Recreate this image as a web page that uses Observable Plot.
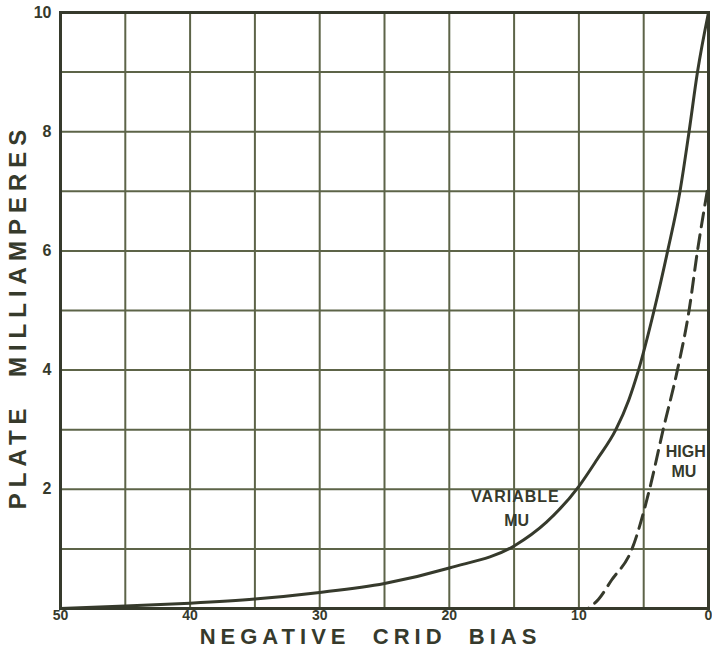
<!DOCTYPE html>
<html>
<head>
<meta charset="utf-8">
<script src="https://cdn.jsdelivr.net/npm/d3@7"></script>
<script src="https://cdn.jsdelivr.net/npm/@observablehq/plot@0.6"></script>
<style>
  html, body { margin: 0; padding: 0; background: #fff; }
</style>
</head>
<body>
<div id="chart"></div>
<script>
// Negative grid bias (volts) and plate current (mA)
const variableBias = [0, 0.85, 1.5, 2.2, 3.15, 4.2, 5.4, 6.15, 7.15, 8.6, 10, 12.5, 15, 20, 25, 30, 35, 40, 45, 50];
const variableMa   = [10, 9, 8, 7, 6, 5, 4, 3.5, 3, 2.5, 2.05, 1.45, 1.05, 0.68, 0.42, 0.27, 0.16, 0.09, 0.04, 0];

const highBias = [0.1, 0.85, 1.5, 2.4, 3.5, 4.55, 5.9, 7.5, 8.5, 9.3];
const highMa   = [7, 6, 5, 4, 3, 2, 1, 0.47, 0.15, 0];

const xTicks = [50, 40, 30, 20, 10, 0];
const yTicks = [2, 4, 6, 8, 10];
const xGrid = [5, 10, 15, 20, 25, 30, 35, 40, 45];
const yGrid = [1, 2, 3, 4, 5, 6, 7, 8, 9];

const xTitle = "NEGATIVE  CRID  BIAS";
const yTitle = "PLATE  MILLIAMPERES";

const curveLabels = [
  {bias: 14.9, ma: 1.87, text: "VARIABLE"},
  {bias: 14.8, ma: 1.47, text: "MU"},
  {bias: 1.75, ma: 2.62, text: "HIGH"},
  {bias: 1.9, ma: 2.3, text: "MU"}
];

const variable = variableBias.map((b, i) => ({bias: b, ma: variableMa[i]}));
const high = highBias.map((b, i) => ({bias: b, ma: highMa[i]}));

const ink = "#363a2c";
const gridInk = "#5d6448";
const font = "'Liberation Sans', 'DejaVu Sans', sans-serif";

const chart = Plot.plot({
  width: 712,
  height: 652,
  marginLeft: 60,
  marginRight: 4,
  marginTop: 12,
  marginBottom: 44,
  style: {fontFamily: font, background: "#fff", color: ink},
  x: {domain: [50, 0]},
  y: {domain: [0, 10]},
  marks: [
    Plot.ruleX(xGrid, {stroke: gridInk, strokeWidth: 2}),
    Plot.ruleY(yGrid, {stroke: gridInk, strokeWidth: 2}),
    Plot.frame({stroke: ink, strokeWidth: 3}),
    Plot.line(variable, {x: "bias", y: "ma", curve: "monotone-x", stroke: ink, strokeWidth: 3}),
    Plot.line(high, {x: "bias", y: "ma", curve: "monotone-x", stroke: ink, strokeWidth: 3, strokeDasharray: "14,8"}),
    Plot.axisX(xTicks, {tickSize: 0, tickPadding: 2, fontSize: 14, fontWeight: "bold", label: null, tickFormat: "d", fill: ink}),
    Plot.axisY(yTicks, {tickSize: 0, tickPadding: 9, fontSize: 16, fontWeight: "bold", label: null, tickFormat: "d", fill: ink}),
    Plot.text(curveLabels, {x: "bias", y: "ma", text: "text", fontSize: 16, fontWeight: "bold", fill: ink, fontFamily: font}),
    Plot.text([xTitle], {frameAnchor: "bottom", dx: -14, dy: 35, text: d => d, fontSize: 22, fill: ink, fontWeight: "bold"}),
    Plot.text([yTitle], {frameAnchor: "left", textAnchor: "middle", dx: -42, dy: 6, rotate: -90, text: d => d, fontSize: 24, fill: ink, fontWeight: "bold"})
  ]
});
chart.querySelectorAll("text").forEach(t => {
  if (t.textContent === xTitle) t.style.letterSpacing = "5px";
  if (t.textContent === yTitle) t.style.letterSpacing = "6px";
  if (t.textContent === "VARIABLE") t.style.letterSpacing = "1px";
});
document.getElementById("chart").appendChild(chart);
</script>
</body>
</html>
